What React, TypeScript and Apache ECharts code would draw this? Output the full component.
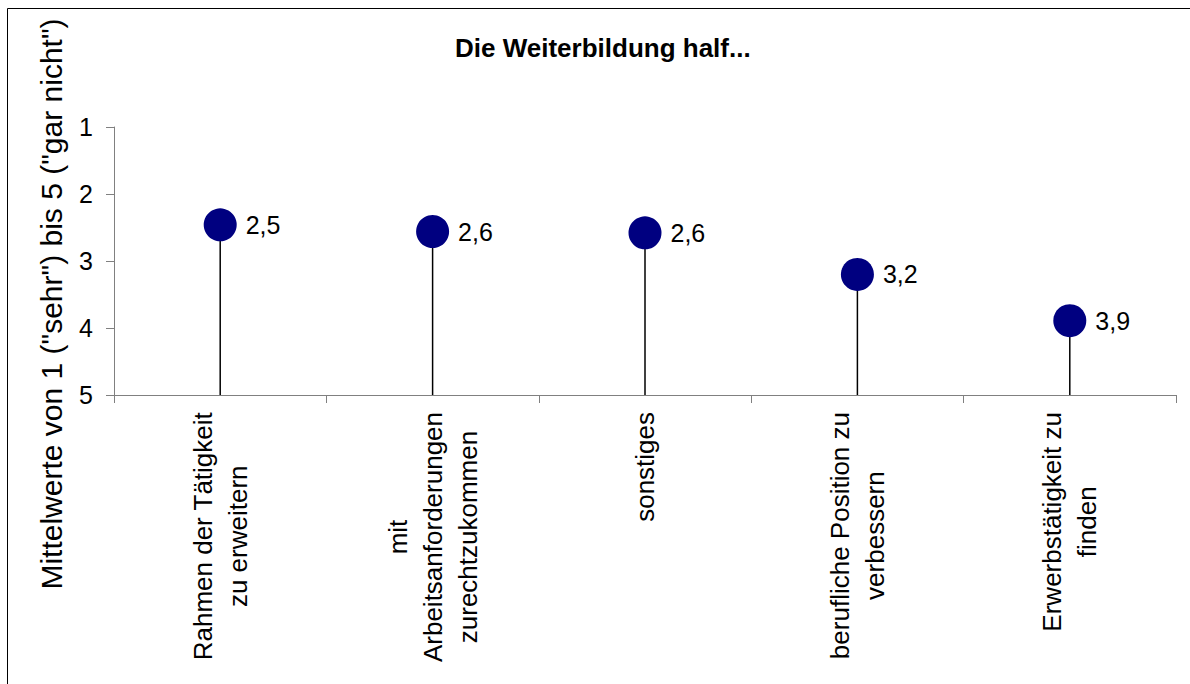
import React, { useEffect, useRef } from "react";
import * as echarts from "echarts";

const TITLE = "Die Weiterbildung half...";
const Y_AXIS_TITLE = 'Mittelwerte von 1 ("sehr") bis 5 ("gar nicht")';
const categories = [
  "Rahmen der Tätigkeit\nzu erweitern",
  "mit\nArbeitsanforderungen\nzurechtzukommen",
  "sonstiges",
  "berufliche Position zu\nverbessern",
  "Erwerbstätigkeit zu\nfinden",
];
const meanValues = [2.46, 2.56, 2.58, 3.2, 3.89];
const Y_MIN = 1;
const Y_MAX = 5;
const Y_INTERVAL = 1;

const FONT = "'Liberation Sans', Arial, sans-serif";

export default function App() {
  const ref = useRef<HTMLDivElement>(null);
  useEffect(() => {
    if (!ref.current) return;
    const chart = echarts.init(ref.current, null, { renderer: "svg" });
    const option: any = {
      animation: false,
      backgroundColor: "#ffffff",
      textStyle: { fontFamily: FONT },
      title: {
        text: TITLE,
        left: 450,
        top: 30,
        textStyle: { fontFamily: FONT, fontSize: 26, fontWeight: "bold", color: "#000" },
      },
      grid: { left: 114, right: 14, top: 127, bottom: 289, containLabel: false },
      xAxis: {
        type: "category",
        data: categories,
        boundaryGap: true,
        axisLine: { lineStyle: { color: "#808080", width: 1 } },
        axisTick: { show: true, length: 8, lineStyle: { color: "#808080" } },
        axisLabel: {
          rotate: 90,
          margin: 17,
          interval: 0,
          color: "#000",
          fontFamily: FONT,
          fontSize: 26,
          formatter: (v: string) =>
            v
              .split("\n")
              .map((l) => `{c|${l}}`)
              .join("\n"),
          rich: {
            c: { align: "center", fontFamily: FONT, fontSize: 26, lineHeight: 35, color: "#000" },
          },
        },
        splitLine: { show: false },
      },
      yAxis: {
        type: "value",
        inverse: true,
        min: Y_MIN,
        max: Y_MAX,
        interval: Y_INTERVAL,
        axisLine: { show: true, lineStyle: { color: "#808080", width: 1 } },
        axisTick: { show: true, length: 8, lineStyle: { color: "#808080" } },
        axisLabel: { color: "#000", fontFamily: FONT, fontSize: 25, margin: 21 },
        splitLine: { show: false },
      },
      graphic: [
        {
          type: "rect",
          shape: { x: 7.5, y: 8.5, width: 1200, height: 700 },
          style: { fill: "none", stroke: "#000", lineWidth: 1 },
          silent: true,
          z: -1,
        },
        {
          type: "text",
          x: 51,
          y: 304,
          rotation: Math.PI / 2,
          style: {
            text: Y_AXIS_TITLE,
            align: "center",
            verticalAlign: "middle",
            fontFamily: FONT,
            fontSize: 30,
            fill: "#000",
          },
        },
      ],
      series: [
        {
          type: "custom",
          z: 1,
          data: meanValues.map((v, i) => [i, v]),
          renderItem: (params: any, api: any) => {
            const top = api.coord([api.value(0), api.value(1)]);
            const base = api.coord([api.value(0), Y_MAX]);
            return {
              type: "line",
              shape: { x1: top[0], y1: top[1], x2: base[0], y2: base[1] },
              style: { stroke: "#000", lineWidth: 1.5 },
            };
          },
        },
        {
          type: "scatter",
          z: 3,
          data: meanValues,
          symbol: "circle",
          symbolSize: 33,
          itemStyle: { color: "#000080", opacity: 1 },
          label: {
            show: true,
            position: "right",
            distance: 9,
            color: "#000",
            fontFamily: FONT,
            fontSize: 25,
            formatter: (p: any) => Number(p.value).toFixed(1).replace(".", ","),
          },
        },
      ],
    };
    chart.setOption(option);
    return () => chart.dispose();
  }, []);
  return (
    <div
      ref={ref}
      style={{ position: "absolute", left: 0, top: 0, width: 1190, height: 684, background: "#fff" }}
    />
  );
}
